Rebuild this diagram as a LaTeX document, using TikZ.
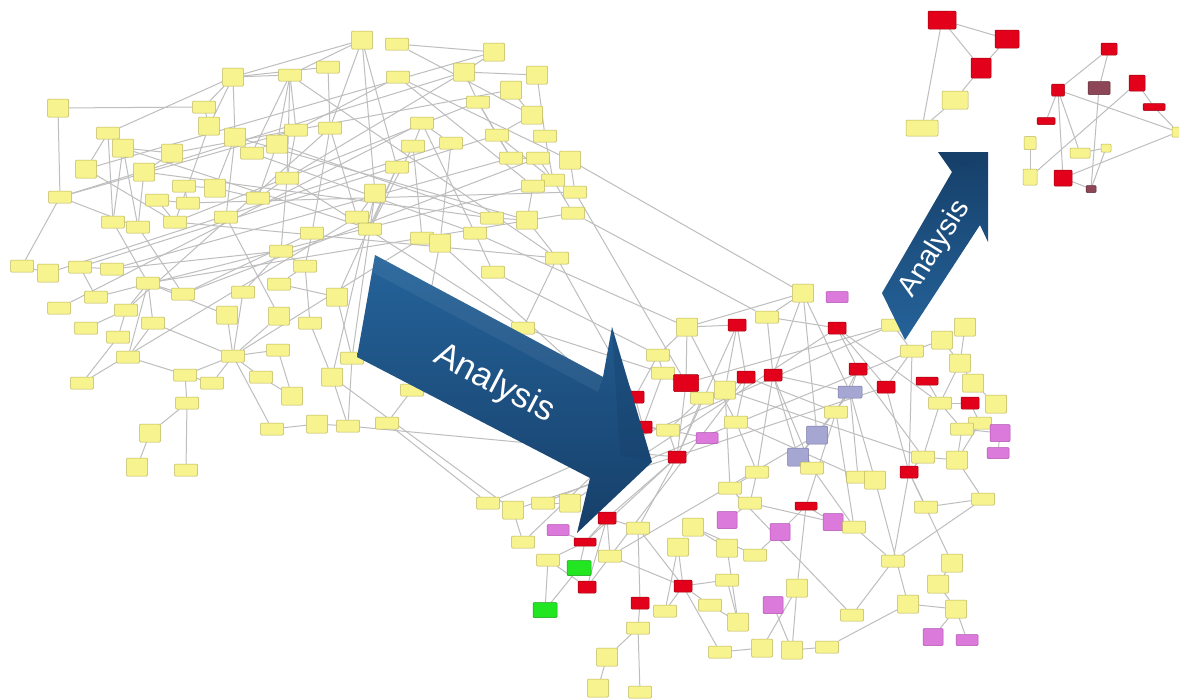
\documentclass[tikz,border=0pt]{standalone}
\usepackage{fontspec}
\setsansfont{Liberation Sans}
\pgfdeclarelayer{bg}
\pgfsetlayers{bg,main}
\definecolor{ylw}{HTML}{F7F38E}
\definecolor{ylwd}{HTML}{BDB55A}
\definecolor{rd}{HTML}{E2001A}
\definecolor{rdd}{HTML}{A0000F}
\definecolor{pk}{HTML}{DC7ADC}
\definecolor{pkd}{HTML}{B050B0}
\definecolor{gr}{HTML}{22E622}
\definecolor{grd}{HTML}{12A012}
\definecolor{lv}{HTML}{A6A6D2}
\definecolor{lvd}{HTML}{7878A8}
\definecolor{brn}{HTML}{8C4656}
\definecolor{brnd}{HTML}{5C2A36}
\definecolor{edgec}{HTML}{BEBEBE}
\definecolor{arrA}{HTML}{25639A}
\definecolor{arrB}{HTML}{163F69}
\begin{document}
\begin{tikzpicture}[x=1pt,y=-1pt,
  base/.style={rectangle,inner sep=0pt,line width=0.5pt,rounded corners=1pt},
  yb/.style={base,fill=ylw,draw=ylwd,minimum width=23pt,minimum height=12pt},
  ytb/.style={base,fill=ylw,draw=ylwd,minimum width=21pt,minimum height=18pt},
  ysb/.style={base,fill=ylw,draw=ylwd,minimum width=12pt,minimum height=10pt},
  rb/.style={base,fill=rd,draw=rdd,minimum width=18pt,minimum height=12pt},
  rbl/.style={base,fill=rd,draw=rdd,minimum width=25pt,minimum height=17pt},
  rbw/.style={base,fill=rd,draw=rdd,minimum width=22pt,minimum height=8pt},
  pb/.style={base,fill=pk,draw=pkd,minimum width=22pt,minimum height=11pt},
  pbt/.style={base,fill=pk,draw=pkd,minimum width=20pt,minimum height=17pt},
  gb/.style={base,fill=gr,draw=grd,minimum width=24pt,minimum height=15pt},
  vb/.style={base,fill=lv,draw=lvd,minimum width=24pt,minimum height=12pt},
  vbt/.style={base,fill=lv,draw=lvd,minimum width=21pt,minimum height=18pt},
  bb/.style={base,fill=brn,draw=brnd,minimum width=22pt,minimum height=13pt},
  bbs/.style={base,fill=brn,draw=brnd,minimum width=10pt,minimum height=7pt},
  edge/.style={draw=edgec,line width=1pt},
  arrowtext/.style={text=white,font=\sffamily}
]
\begin{pgfonlayer}{bg}
\fill[white] (0,0) rectangle (1179,699);
\end{pgfonlayer}
\useasboundingbox (0,0) rectangle (1179,699);

% ---------- left cluster ----------
\foreach \n/\x/\y/\s in {
L1/233/77/ytb, L2/290/75/yb, L3/58/108/ytb, L4/204/107/yb, L5/108/133/yb,
L6/209/126/ytb, L7/235/137/ytb, L8/296/130/yb, L9/123/148/ytb, L10/172/153/ytb,
L11/252/153/yb, L12/277/144/ytb, L13/86/169/ytb, L14/144/172/ytb, L15/184/186/yb,
L16/215/188/ytb, L17/287/178/yb, L18/60/197/yb, L19/157/200/yb, L20/188/203/yb,
L21/258/198/yb, L22/113/222/yb, L23/138/227/yb, L24/175/222/yb, L25/226/217/yb,
L26/281/251/yb, L27/362/40/ytb, L28/397/44/yb, L29/494/52/ytb, L30/328/67/yb,
L31/464/72/ytb, L32/537/75/ytb, L33/398/77/yb, L34/511/90/ytb, L35/478/102/yb,
L36/532/115/ytb, L37/330/128/yb, L38/422/123/yb, L39/497/135/yb, L40/413/146/yb,
L41/451/143/yb, L42/545/136/yb, L43/511/158/yb, L44/538/158/yb, L45/570/160/ytb,
L46/397/167/yb, L47/553/180/yb, L48/533/186/yb, L49/575/192/yb, L50/375/193/ytb,
L51/357/217/yb, L52/370/229/yb, L53/312/233/yb, L54/492/218/yb, L55/527/220/ytb,
L56/573/213/yb, L57/422/238/yb, L58/440/243/ytb, L59/475/233/yb, L60/557/258/yb,
L61/22/266/yb, L62/48/273/ytb, L63/80/267/yb, L64/112/269/yb, L65/148/283/yb,
L66/183/294/yb, L67/96/297/yb, L68/59/308/yb, L69/126/310/yb, L70/86/328/yb,
L71/153/323/yb, L72/118/337/yb, L73/128/357/yb, L74/82/383/yb, L75/243/292/yb,
L76/279/284/yb, L78/305/266/yb, L79/227/315/ytb, L80/279/316/ytb, L81/310/323/yb,
L82/337/297/ytb, L83/278/350/yb, L84/233/356/yb, L85/185/375/yb, L86/212/383/yb,
L87/261/377/yb, L88/292/396/ytb, L89/332/377/ytb, L90/352/358/yb, L91/187/403/yb,
L92/150/433/ytb, L93/137/467/ytb, L94/186/470/yb, L95/272/429/yb, L96/317/424/ytb,
L97/348/426/yb, L98/387/423/yb, L100/493/272/yb, L101/412/390/yb, L102/523/328/yb}
  {\node[\s] (\n) at (\x,\y) {};}

% ---------- right cluster ----------
\foreach \n/\x/\y/\s in {
R1/687/327/ytb, R2/737/325/rb, R3/767/317/yb, R4/658/355/yb, R5/663/373/yb,
R6/686/383/rbl, R7/746/377/rb, R8/773/375/rb, R9/725/390/ytb, R10/702/398/yb,
R11/635/397/rb, R12/643/427/rb, R13/668/430/yb, R14/736/422/yb, R15/707/438/pb,
R16/677/457/rb, R17/757/472/yb, R18/730/488/yb, R19/803/293/ytb, R20/837/297/pb,
R22/837/328/rb, R23/858/369/rb, R24/850/392/vb, R25/886/387/rb, R26/836/412/yb,
R27/912/351/yb, R28/942/340/ytb, R29/965/327/ytb, R30/960/363/ytb, R31/927/381/rbw,
R32/973/383/ytb, R33/940/403/yb, R34/970/403/rb, R35/996/404/ytb, R36/980/423/yb,
R37/962/429/yb, R38/1000/433/pbt, R39/998/453/pb, R40/817/435/vbt, R41/798/457/vbt,
R42/812/468/yb, R43/923/457/yb, R44/957/460/ytb, R45/909/472/rb, R46/858/477/yb,
R47/875/480/ytb, R49/488/503/yb, R50/513/510/ytb, R51/543/503/yb, R52/570/503/ytb,
R53/523/542/yb, R54/607/518/rb, R55/558/530/pb, R56/638/528/yb, R57/585/542/rbw,
R58/610/556/yb, R59/548/560/yb, R60/579/568/gb, R61/587/587/rb, R62/545/610/gb,
R63/693/527/ytb, R64/678/547/ytb, R65/727/548/ytb, R66/755/555/yb, R67/727/520/pbt,
R68/750/503/yb, R69/683/586/rb, R70/640/603/rb, R71/727/580/yb, R72/665/611/yb,
R73/710/605/yb, R74/738/622/ytb, R75/638/628/yb, R76/607/657/ytb, R77/598/688/ytb,
R78/640/692/yb, R79/720/652/yb, R80/762/648/ytb, R81/773/605/pbt, R82/806/506/rbw,
R83/780/532/pbt, R84/833/522/pbt, R85/854/527/yb, R87/926/507/yb, R88/983/499/yb,
R89/893/561/yb, R90/952/563/ytb, R91/938/584/ytb, R92/797/588/ytb, R94/908/604/ytb,
R95/956/609/ytb, R96/852/615/yb, R97/933/637/pbt, R98/967/640/pb, R100/792/650/ytb,
R101/827/647/yb, R102/893/325/yb}
  {\node[\s] (\n) at (\x,\y) {};}

% ---------- top-right clusters ----------
\node[rbl,minimum width=28pt,minimum height=18pt] (T1) at (942,20) {};
\node[rbl,minimum width=24pt,minimum height=18pt] (T2) at (1007,39) {};
\node[rbl,minimum width=20pt,minimum height=20pt] (T3) at (981,68) {};
\node[ytb,minimum width=26pt,minimum height=18pt] (T4) at (955,100) {};
\node[ytb,minimum width=32pt,minimum height=16pt] (T5) at (922,128) {};
\node[rb,minimum width=16pt] (U1) at (1109,49) {};
\node[rb,minimum width=13pt] (U2) at (1058,90) {};
\node[bb] (U3) at (1099,88) {};
\node[rb,minimum width=16pt,minimum height=16pt] (U4) at (1137,83) {};
\node[rbw,minimum width=22pt,minimum height=7pt] (U5) at (1154,107) {};
\node[rbw,minimum width=18pt,minimum height=7pt] (U6) at (1046,121) {};
\node[ysb,minimum height=13pt] (U7) at (1030,143) {};
\node[ysb,minimum width=14pt,minimum height=16pt] (U8) at (1030,177) {};
\node[rb,minimum width=18pt,minimum height=16pt] (U9) at (1063,178) {};
\node[ysb,minimum width=20pt] (U10) at (1080,153) {};
\node[ysb,minimum width=10pt,minimum height=8pt] (U11) at (1106,148) {};
\node[bbs] (U12) at (1091,189) {};
\node[ysb,minimum width=12pt] (U13) at (1178,132) {};

\begin{pgfonlayer}{bg}
\foreach \a/\b in {
L3/L4, L3/L18, L1/L4, L1/L5, L1/L2, L1/L7, L1/L6, L1/L27, L1/L30, L2/L8, L2/L12,
L2/L17, L2/L27, L2/L11, L4/L6, L5/L13, L5/L22, L9/L22, L9/L23, L9/L52, L10/L14,
L13/L24, L14/L23, L15/L20, L15/L16, L7/L25, L7/L11, L7/L16, L18/L61, L18/L23,
L18/L8, L19/L24, L19/L20, L22/L65, L23/L66, L24/L35, L6/L24, L8/L12, L8/L17,
L12/L21, L17/L26, L17/L21, L26/L75, L27/L37, L27/L50, L27/L46, L28/L36, L29/L31,
L31/L32, L31/L35, L31/L17, L31/L18, L32/L42, L35/L43, L35/L39, L33/L48, L33/L45,
L36/L39, L37/L51, L37/L53, L38/L40, L38/L59, L38/L41, L39/L43, L39/L47, L40/L57,
L40/L52, L41/L58, L42/L47, L44/L47, L43/L44, L45/L49, L47/L48, L47/L56, L48/L55,
L46/L52, L50/L52, L50/L51, L51/L74, L54/L55, L55/L60, L57/L58, L59/L100, L60/L102,
L61/L62, L63/L64, L63/L67, L65/L66, L65/L69, L65/L71, L65/L73, L69/L70, L69/L72,
L71/L73, L72/L74, L71/L84, L75/L84, L79/L84, L80/L84, L84/L85, L84/L86, L84/L87,
L84/L83, L84/L95, L83/L88, L87/L88, L85/L91, L91/L92, L91/L94, L92/L93, L95/L96,
L96/L97, L89/L97, L89/L81, L81/L78, L78/L76, L82/L76, L90/L97, L90/L82, L26/L78,
L53/L78, L66/L44, L64/L43, L63/L39, L65/L56, L67/L48, L2/L60, L7/L55, L12/L54,
L11/L59, L17/L102, L62/L41, L68/L38, L13/L29, L10/L34, L14/L54, L24/L60, L20/L49,
L57/L84, L50/L89, L52/L90, L58/L101, L101/L98, L46/L82, L30/L37, L33/L11, L28/L29,
L34/L36, L37/L69, L9/L10, L16/L21, L25/L80, L79/L65, L73/L86, L53/L66, L26/L64,
L60/R11, L100/R4, L102/R5, L58/R12, L98/R49, L59/R1, L97/R16, L89/R50, L56/R3,
L45/R19, L49/R6, L101/R13}
  {\draw[edge] (\a) -- (\b);}
\foreach \a/\b in {
R1/R2, R1/R4, R1/R6, R1/R19, R2/R7, R2/R9, R2/R16, R3/R8, R3/R19, R4/R5, R4/R11,
R5/R10, R5/R12, R6/R10, R6/R16, R7/R9, R7/R14, R7/R26, R8/R17, R8/R24, R8/R41,
R8/R42, R9/R18, R10/R13, R10/R16, R11/R12, R12/R13, R13/R15, R13/R16, R14/R17,
R16/R54, R16/R57, R16/R56, R17/R18, R17/R68, R19/R24, R19/R40, R19/R8, R22/R25,
R22/R23, R22/R33, R23/R24, R23/R26, R23/R43, R24/R40, R24/R41, R24/R46, R24/R47,
R25/R45, R25/R27, R26/R82, R27/R28, R27/R102, R27/R45, R28/R30, R29/R30, R30/R33,
R30/R32, R31/R33, R33/R34, R33/R37, R34/R36, R32/R35, R37/R38, R37/R44, R38/R39,
R33/R43, R43/R44, R43/R45, R44/R88, R45/R89, R45/R87, R46/R47, R40/R41, R41/R42,
R42/R85, R82/R83, R82/R84, R82/R92, R85/R89, R88/R89, R89/R96, R100/R101, R100/R92,
R81/R100, R90/R91, R91/R95, R94/R95, R95/R97, R95/R98, R94/R101, R90/R45, R18/R96,
R50/R53, R51/R52, R54/R57, R54/R56, R54/R58, R57/R60, R57/R59, R56/R69, R58/R69,
R60/R62, R59/R62, R61/R54, R56/R70, R69/R72, R69/R73, R69/R71, R69/R64, R69/R79,
R63/R66, R63/R65, R71/R74, R73/R74, R70/R75, R75/R76, R76/R77, R75/R78, R79/R80,
R80/R92, R49/R102, R51/R27, R50/R25, R52/R22, R61/R7, R58/R40, R53/R12, R55/R57,
R59/R61, R64/R72, R65/R74, R67/R68, R66/R83, R1/R14, R3/R22, R36/R37, R6/R102,
R14/R46, R9/R43, R26/R85, R68/R84, R87/R88, R44/R36, R47/R94}
  {\draw[edge] (\a) -- (\b);}
\foreach \a/\b in {
T1/T2, T1/T3, T3/T2, T3/T4, T4/T5, T1/T5,
U1/U2, U1/U3, U2/U6, U2/U9, U2/U10, U2/U13, U4/U5, U5/U13, U4/U8, U7/U8,
U9/U12, U9/U13, U3/U12, U10/U11, U11/U12}
  {\draw[edge] (\a) -- (\b);}
\end{pgfonlayer}

% ---------- big arrows ----------
\shade[left color=arrA,right color=arrB,shading angle=0]
  (375,255) -- (603,377) -- (612,327) -- (652,462) -- (577,533) -- (590,478)
  -- (357,357) -- cycle;
\fill[arrB,opacity=0.35] (612,327) -- (652,462) -- (620,455) -- cycle;
\fill[white,opacity=0.06] (375,255) -- (603,377) -- (598,392) -- (372,272) -- cycle;
\node[arrowtext,rotate=-27.5,font=\sffamily\fontsize{35}{40}\selectfont]
  (an1) at (494,384) {Analysis};

\shade[left color=arrB,right color=arrA,shading angle=0]
  (882,293) -- (952,172) -- (938,152) -- (988,152) -- (988,242) -- (980,225)
  -- (905,340) -- cycle;
\fill[arrB,opacity=0.35] (938,152) -- (988,152) -- (960,168) -- cycle;
\node[arrowtext,rotate=58,font=\sffamily\fontsize{29}{34}\selectfont]
  (an2) at (935,249) {Analysis};
\end{tikzpicture}
\end{document}
